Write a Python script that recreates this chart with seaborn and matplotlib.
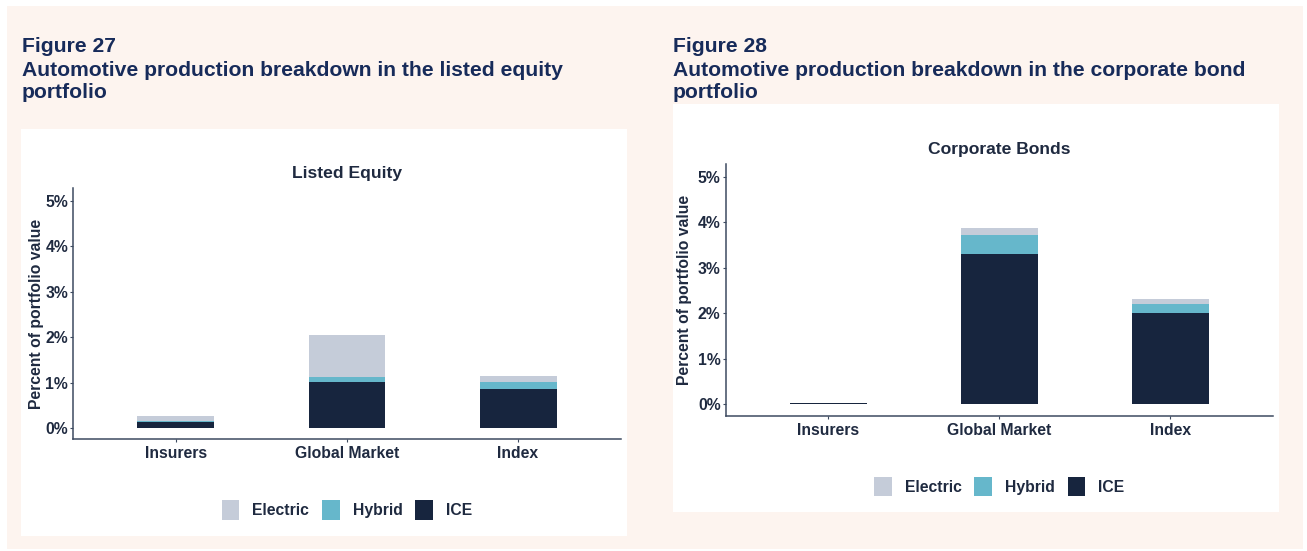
import numpy as np
import pandas as pd
import seaborn as sns
import matplotlib.pyplot as plt
from matplotlib.patches import Rectangle, Patch

# data
categories = ["Insurers", "Global Market", "Index"]
equity_ice = [0.13, 1.01, 0.86]
equity_hybrid = [0.03, 0.12, 0.16]
equity_electric = [0.11, 0.92, 0.14]
bond_ice = [0.02, 3.30, 2.01]
bond_hybrid = [0.0, 0.41, 0.19]
bond_electric = [0.0, 0.16, 0.11]
y_ticks = [0, 1, 2, 3, 4, 5]
series = ["Electric", "Hybrid", "ICE"]

colors = {"Electric": "#c5ccd9", "Hybrid": "#66b7cb", "ICE": "#17253e"}
TXT = "#1f2a40"
HEAD = "#172b5a"
PEACH = "#fdf4ef"

sns.set_theme(style="white")
plt.rcParams["font.family"] = ["Liberation Sans", "DejaVu Sans"]
plt.rcParams["font.weight"] = "bold"

W, H = 1307, 551
fig = plt.figure(figsize=(W / 100, H / 100), dpi=100)
fig.patch.set_facecolor("white")


def box(x0, y0, x1, y1, color):
    fig.add_artist(Rectangle((x0 / W, 1 - y1 / H), (x1 - x0) / W, (y1 - y0) / H,
                             transform=fig.transFigure, facecolor=color,
                             edgecolor="none", zorder=0))


box(7, 6, 1303, 549, PEACH)
box(20.7, 129.3, 626.7, 535.7, "white")
box(673, 104, 1279, 511.7, "white")

# headings
heads = [
    (22, ["Figure 27", "Automotive production breakdown in the listed equity", "portfolio"]),
    (673, ["Figure 28", "Automotive production breakdown in the corporate bond", "portfolio"]),
]
for x, lines in heads:
    for yb, line in zip([51.7, 75.5, 98.5], lines):
        fig.text(x / W, 1 - yb / H, line, ha="left", va="baseline",
                 fontsize=15.25, fontweight="bold", color=HEAD)


def panel(rect_px, ice, hybrid, electric, title, ylim, ylab_x, leg_y, title_pad):
    x0, y0, x1, y1 = rect_px
    ax = fig.add_axes([x0 / W, 1 - y1 / H, (x1 - x0) / W, (y1 - y0) / H])
    ax.set_facecolor("white")
    df = pd.DataFrame({"cat": categories, "ice": ice, "hybrid": hybrid,
                       "electric": electric})
    df["s_hybrid"] = df["ice"] + df["hybrid"]
    df["s_total"] = df["s_hybrid"] + df["electric"]
    for col, key in [("s_total", "Electric"), ("s_hybrid", "Hybrid"), ("ice", "ICE")]:
        sns.barplot(data=df, x="cat", y=col, color=colors[key], saturation=1,
                    width=0.45, ax=ax, linewidth=0, order=categories)
    ax.set_xlim(-0.6, 2.6)
    ax.set_ylim(*ylim)
    ax.set_yticks(y_ticks)
    ax.set_yticklabels([f"{v}%" for v in y_ticks])
    ax.set_xlabel("")
    ax.set_ylabel("Percent of portfolio value", fontsize=11.3, fontweight="bold",
                  color=TXT)
    ax.yaxis.set_label_coords(ylab_x, 0.5)
    ax.yaxis.label.set_verticalalignment("center")
    ax.set_title(title, fontsize=12.6, fontweight="bold", color=TXT, pad=title_pad)
    for s in ["top", "right"]:
        ax.spines[s].set_visible(False)
    for s in ["left", "bottom"]:
        ax.spines[s].set_color("#3d4a60")
        ax.spines[s].set_linewidth(1.1)
    ax.tick_params(axis="both", which="major", length=2.2, width=0.8,
                   color="#3d4a60", labelsize=11.3, labelcolor=TXT, pad=1.5,
                   left=True, bottom=True)
    ax.tick_params(axis="x", pad=2.5)
    for lab in ax.get_xticklabels() + ax.get_yticklabels():
        lab.set_fontweight("bold")
    handles = [Patch(facecolor=colors[s], edgecolor="none", label=s) for s in series]
    cx = (x0 + x1) / 2
    fig.legend(handles=handles, loc="center", bbox_to_anchor=(cx / W, 1 - leg_y / H),
               ncol=3, frameon=False, fontsize=11.3, handlelength=1.13,
               handleheight=1.57, handletextpad=0.83, columnspacing=0.81,
               prop={"weight": "bold", "size": 11.3}, labelcolor=TXT)
    return ax


panel((73.3, 188, 620.7, 439.3), equity_ice, equity_hybrid, equity_electric,
      "Listed Equity", (-0.24, 5.28), -0.067, 510, 7)
panel((725.7, 164, 1272.7, 416), bond_ice, bond_hybrid, bond_electric,
      "Corporate Bonds", (-0.26, 5.28), -0.075, 486.5, 7.5)

plt.savefig("out.png", dpi=100, facecolor=fig.get_facecolor())
